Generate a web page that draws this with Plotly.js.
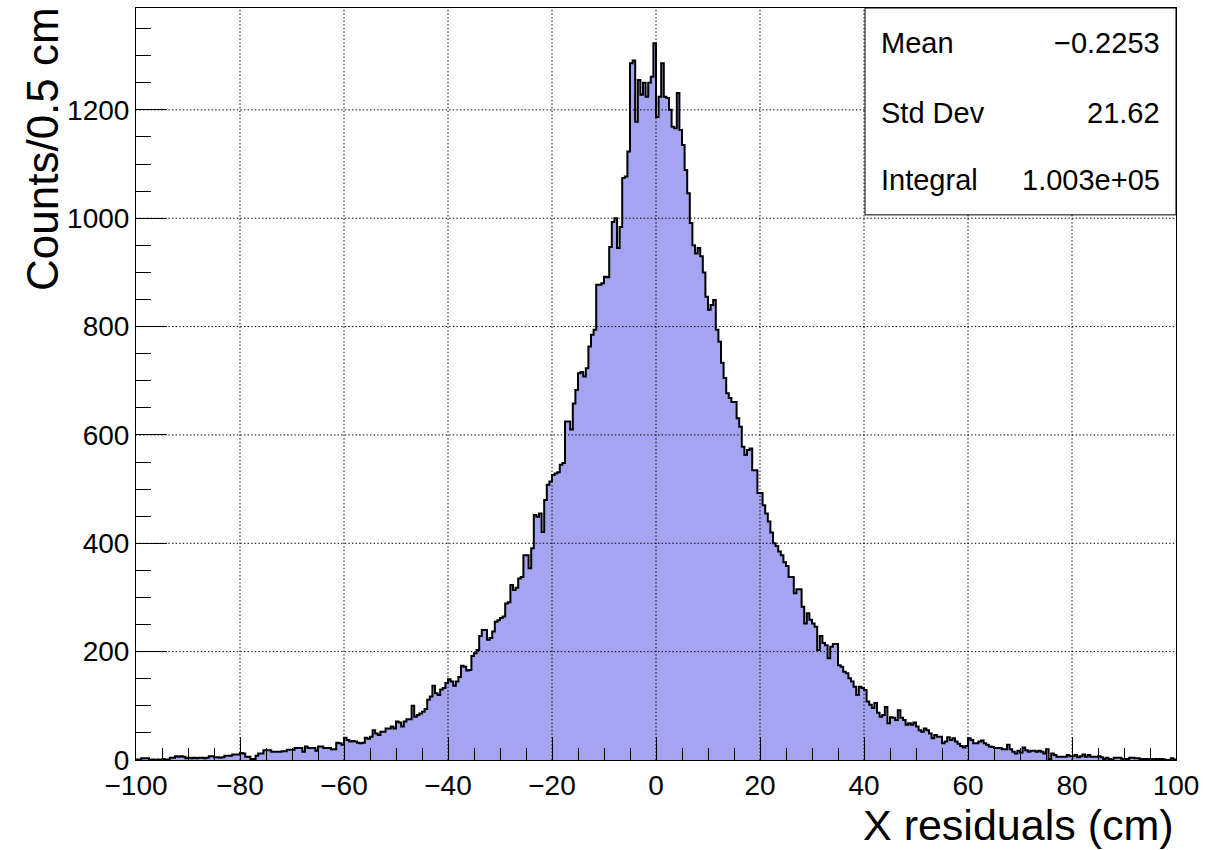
<!DOCTYPE html>
<html>
<head>
<meta charset="utf-8">
<script src="https://cdn.plot.ly/plotly-3.0.1.min.js"></script>
<style>
  html, body { margin: 0; padding: 0; background: #fff; }
  #chart { width: 1228px; height: 850px; }
</style>
</head>
<body>
<div id="chart"></div>
<script>
// Histogram binning: 400 bins of 0.5 cm from -100 to 100 cm
const binLow = -100;
const binWidth = 0.5;

// Counts per bin, 20 bins (10 cm) per row
const counts = [
  1, 1, 3, 3, 3, 0, 1, 0, 1, 0, 2, 1, 1, 4, 4, 7, 6, 7, 6, 3,
  4, 3, 4, 3, 4, 4, 3, 4, 7, 7, 5, 5, 4, 5, 8, 8, 8, 10, 10, 10,
  13, 12, 6, 6, 2, 2, 8, 12, 12, 18, 18, 18, 15, 15, 15, 15, 16, 16, 19, 19,
  19, 22, 22, 22, 15, 25, 22, 22, 22, 17, 25, 25, 22, 22, 22, 20, 20, 32, 31, 28,
  41, 37, 34, 35, 34, 32, 31, 32, 41, 39, 43, 55, 49, 46, 52, 52, 58, 58, 62, 58,
  71, 69, 62, 71, 75, 75, 100, 80, 83, 86, 89, 94, 111, 117, 137, 123, 120, 130, 133, 142,
  149, 145, 137, 145, 153, 174, 172, 165, 166, 192, 197, 203, 229, 240, 240, 222, 225, 237, 255, 258,
  262, 265, 289, 291, 323, 314, 318, 335, 338, 378, 378, 354, 391, 452, 449, 455, 421, 480, 508, 514,
  526, 529, 531, 545, 548, 625, 625, 610, 658, 683, 714, 716, 708, 723, 763, 785, 794, 877, 877, 880,
  892, 891, 947, 993, 1000, 945, 984, 1074, 1077, 1123, 1286, 1291, 1178, 1255, 1228, 1250, 1224, 1250, 1261, 1323,
  1187, 1224, 1286, 1224, 1222, 1200, 1169, 1166, 1231, 1163, 1135, 1089, 1046, 991, 950, 935, 945, 930, 900, 855,
  831, 840, 849, 794, 772, 733, 705, 677, 668, 661, 661, 631, 615, 578, 563, 572, 575, 535, 535, 493,
  493, 470, 455, 440, 420, 400, 395, 385, 378, 365, 358, 338, 338, 308, 315, 315, 283, 252, 271, 259,
  252, 246, 203, 229, 216, 212, 188, 209, 214, 214, 175, 172, 163, 160, 151, 145, 135, 120, 135, 133,
  129, 108, 102, 96, 105, 87, 80, 83, 98, 68, 79, 78, 74, 92, 78, 74, 65, 68, 65, 69,
  62, 55, 52, 58, 55, 49, 40, 46, 43, 43, 31, 34, 42, 37, 40, 34, 30, 26, 23, 26,
  40, 37, 31, 31, 34, 36, 31, 28, 25, 24, 22, 22, 22, 20, 20, 28, 20, 15, 12, 17,
  14, 23, 18, 15, 17, 17, 15, 17, 15, 12, 20, 2, 12, 9, 6, 6, 6, 6, 9, 7,
  7, 9, 5, 7, 10, 6, 9, 6, 6, 6, 7, 5, 2, 4, 2, 0, 4, 4, 4, 2,
  2, 2, 4, 4, 3, 3, 2, 2, 2, 2, 2, 1, 2, 2, 2, 1, 0, 0, 3, 1
];

// Grid positions (major ticks inside the frame)
const xGrid = [-80, -60, -40, -20, 0, 20, 40, 60, 80];
const yGrid = [200, 400, 600, 800, 1000, 1200];

// Statistics box
const statNames = ["Mean", "Std Dev", "Integral"];
const statValues = ["\u22120.2253", "21.62", "1.003e+05"];

const FONT = "Liberation Sans, Arial, Helvetica, sans-serif";

// Step outline: left bin edges plus the final right edge
const edges = counts.map((_, i) => binLow + i * binWidth);
edges.push(binLow + counts.length * binWidth);
const stepY = counts.concat([counts[counts.length - 1]]);

const hist = {
  type: "scatter",
  mode: "lines",
  x: edges,
  y: stepY,
  line: { shape: "hv", color: "#000", width: 2 },
  fill: "tozeroy",
  fillcolor: "#a4a4f0",
  hoverinfo: "skip"
};

const plotTop = 8, plotBottom = 760.5, plotLeft = 136, plotRight = 1176;
const pxToPaperX = px => (px - plotLeft) / (plotRight - plotLeft);
const pxToPaperY = py => (plotBottom - py) / (plotBottom - plotTop);

const gridLine = { color: "#000", width: 1, dash: "1.4px,2.2px" };
const shapes = [];
xGrid.forEach(v => shapes.push({
  type: "line", xref: "x", yref: "paper", x0: v, x1: v, y0: 0, y1: 1,
  line: gridLine, layer: "above"
}));
yGrid.forEach(v => shapes.push({
  type: "line", xref: "paper", yref: "y", x0: 0, x1: 1, y0: v, y1: v,
  line: gridLine, layer: "above"
}));
// Stats box
shapes.push({
  type: "rect", xref: "paper", yref: "paper",
  x0: pxToPaperX(865), x1: 1, y0: pxToPaperY(215), y1: 1,
  fillcolor: "#fff", line: { color: "#000", width: 1 }, layer: "above"
});

const statRowsY = [43, 113, 180];
const annotations = [];
statNames.forEach((name, i) => {
  annotations.push({
    text: name, xref: "paper", yref: "paper",
    x: pxToPaperX(879), y: pxToPaperY(statRowsY[i]),
    xanchor: "left", yanchor: "middle", showarrow: false,
    font: { family: FONT, size: 29, color: "#000" }
  });
  annotations.push({
    text: statValues[i], xref: "paper", yref: "paper",
    x: pxToPaperX(1162), y: pxToPaperY(statRowsY[i]),
    xanchor: "right", yanchor: "middle", showarrow: false,
    font: { family: FONT, size: 29, color: "#000" }
  });
});
// Axis titles (aligned to the axis ends)
annotations.push({
  text: "Counts/0.5 cm", xref: "paper", yref: "paper",
  x: pxToPaperX(42), y: pxToPaperY(5), xanchor: "center", yanchor: "top",
  textangle: -90, showarrow: false,
  font: { family: FONT, size: 44, color: "#000" }
});
annotations.push({
  text: "X residuals (cm)", xref: "paper", yref: "paper",
  x: 1, y: pxToPaperY(826), xanchor: "right", yanchor: "middle",
  showarrow: false,
  font: { family: FONT, size: 43, color: "#000" }
});

const layout = {
  width: 1228, height: 850,
  margin: { l: plotLeft, r: 1228 - plotRight, t: plotTop, b: 850 - plotBottom },
  paper_bgcolor: "#fff", plot_bgcolor: "#fff",
  showlegend: false,
  font: { family: FONT, size: 28, color: "#000" },
  xaxis: {
    range: [-100, 100], tickmode: "linear", tick0: 0, dtick: 20,
    ticks: "inside", ticklen: 23, tickwidth: 1, tickcolor: "#000",
    minor: { tickmode: "linear", tick0: 0, dtick: 5, ticks: "inside", ticklen: 12, tickwidth: 1, tickcolor: "#000", showgrid: false },
    showgrid: false, zeroline: false, showline: true, linecolor: "#000", linewidth: 1, mirror: true,
    tickfont: { family: FONT, size: 28, color: "#000" }, fixedrange: true
  },
  yaxis: {
    range: [0, 1388], tickmode: "linear", tick0: 0, dtick: 200,
    ticks: "inside", ticklen: 31, tickwidth: 1, tickcolor: "#000",
    minor: { tickmode: "linear", tick0: 0, dtick: 50, ticks: "inside", ticklen: 15, tickwidth: 1, tickcolor: "#000", showgrid: false },
    showgrid: false, zeroline: false, showline: true, linecolor: "#000", linewidth: 1, mirror: true,
    tickfont: { family: FONT, size: 28, color: "#000" }, fixedrange: true
  },
  shapes: shapes,
  annotations: annotations
};

Plotly.newPlot("chart", [hist], layout, { staticPlot: true, displayModeBar: false });
</script>
</body>
</html>
